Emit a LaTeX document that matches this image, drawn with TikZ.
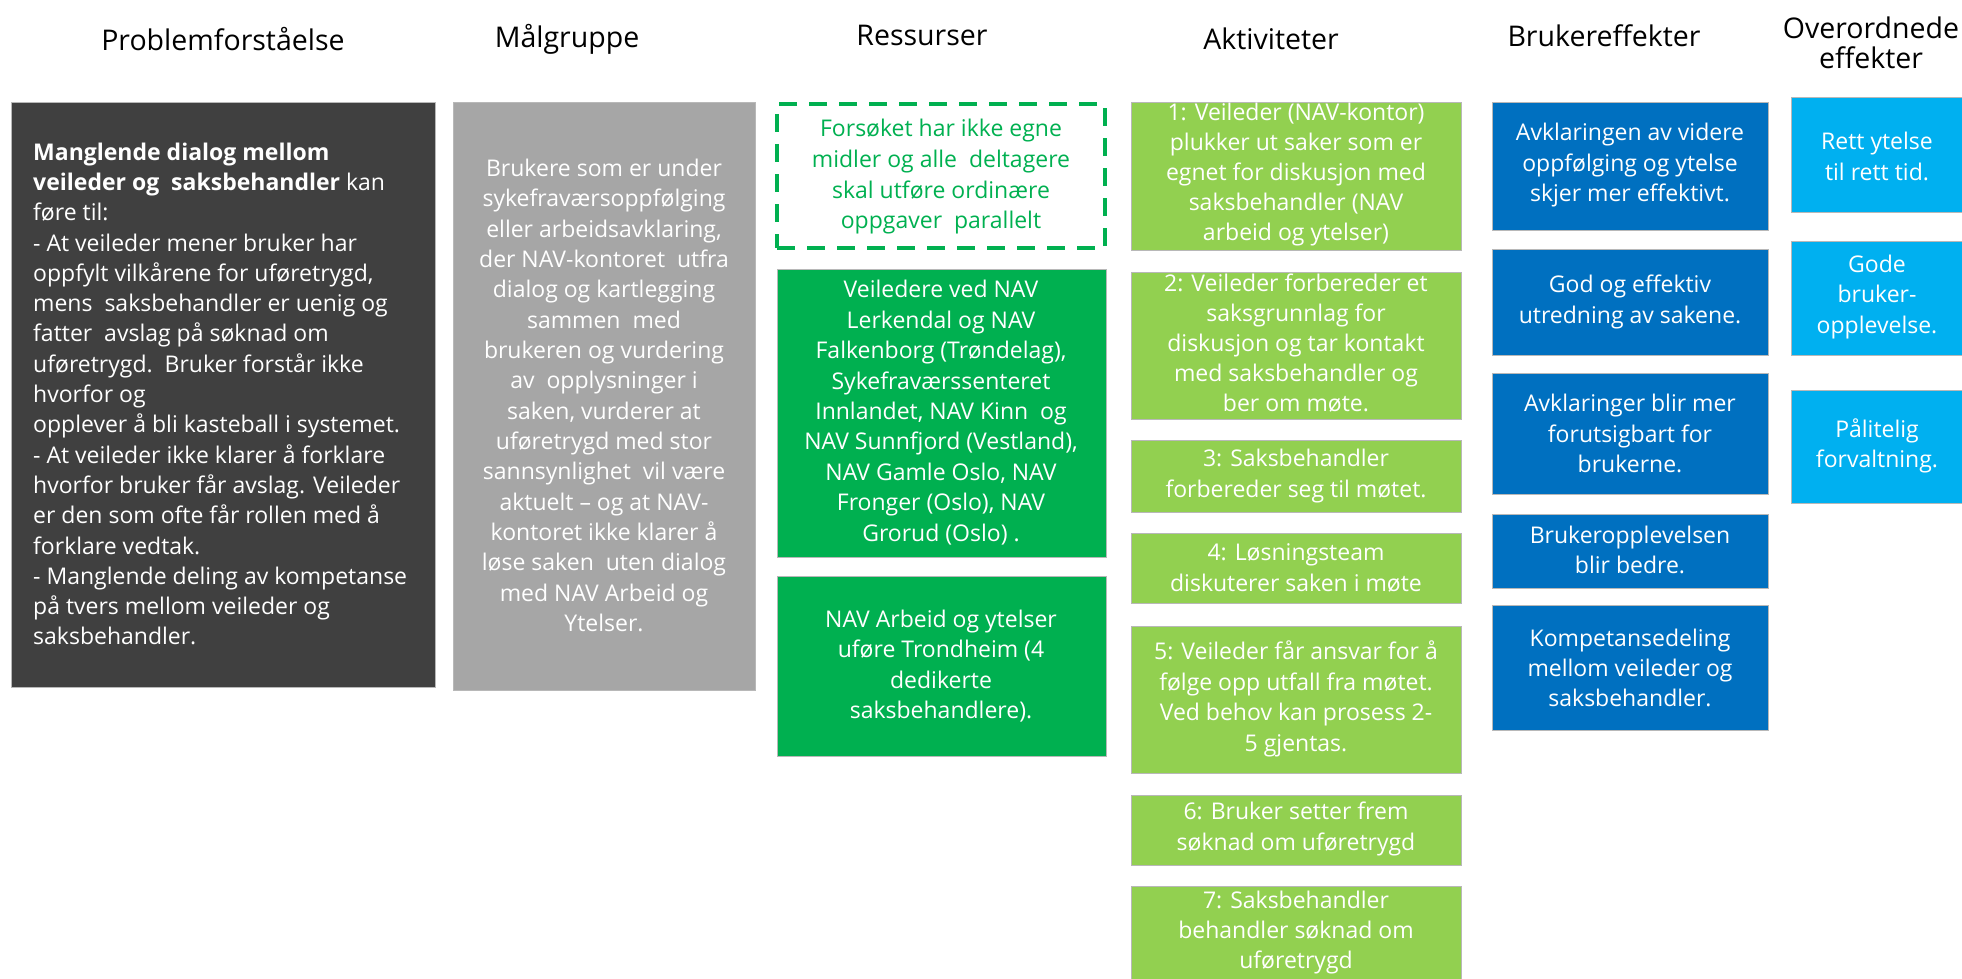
\documentclass[tikz,border=0pt]{standalone}
\usepackage{fontspec}
\setmainfont{Open Sans}
\definecolor{cdark}{HTML}{404040}
\definecolor{cgrey}{HTML}{A6A6A6}
\definecolor{cgreen}{HTML}{00B050}
\definecolor{clgreen}{HTML}{92D050}
\definecolor{cblue}{HTML}{0070C0}
\definecolor{clblue}{HTML}{00B0F0}
\begin{document}
\begin{tikzpicture}[x=1pt,y=-1pt,
  box/.style={rectangle, draw=black!28, line width=1pt, inner sep=0pt, outer sep=0pt, anchor=north west},
  dashbox/.style={rectangle, draw=cgreen, line width=3.5pt, dash pattern=on 18pt off 12pt, inner sep=0pt, outer sep=0pt, anchor=north west},
  txt/.style={inner sep=0pt, align=center, text=white, font=\fontsize{23}{30.4}\selectfont},
  head/.style={inner sep=0pt, align=center, text=black, font=\fontsize{28.5}{30}\selectfont},
]
\useasboundingbox (0,0) rectangle (1962,979);
\clip (0,0) rectangle (1962,979);

% headers
\node[head] (h1) at (223,39) {Problemforståelse};
\node[head] (h2) at (567,39) {Målgruppe};
\node[head] (h3) at (922,35) {Ressurser};
\node[head] (h4) at (1271,39) {Aktiviteter};
\node[head] (h5) at (1604,36) {Brukereffekter};
\node[head] (h6) at (1871,43) {Overordnede\\effekter};

% column 1
\node[box, fill=cdark, minimum width=424, minimum height=584] (prob) at (11,103) {};
\node[txt, anchor=west, align=left, font=\fontsize{23}{30.3}\selectfont] (probt) at (33,394) {%
\textbf{Manglende dialog mellom}\\
\textbf{veileder og\ \ saksbehandler} kan\\
føre til:\\
- At veileder mener bruker har\\
oppfylt vilkårene for uføretrygd,\\
mens\ \ saksbehandler er uenig og\\
fatter\ \ avslag på søknad om\\
uføretrygd.\ \ Bruker forstår ikke\\
hvorfor og\\
opplever å bli kasteball i systemet.\\
- At veileder ikke klarer å forklare\\
hvorfor bruker får avslag. Veileder\\
er den som ofte får rollen med å\\
forklare vedtak.\\
- Manglende deling av kompetanse\\
på tvers mellom veileder og\\
saksbehandler.};

% column 2
\node[box, fill=cgrey, minimum width=302, minimum height=587] (mal) at (453,103) {};
\node[txt, font=\fontsize{23}{30.35}\selectfont] (malt) at (604,395.4) {%
Brukere som er under\\
sykefraværsoppfølging\\
eller arbeidsavklaring,\\
der NAV-kontoret\ \ utfra\\
dialog og kartlegging\\
sammen\ \ med\\
brukeren og vurdering\\
av\ \ opplysninger i\\
saken, vurderer at\\
uføretrygd med stor\\
sannsynlighet\ \ vil være\\
aktuelt – og at NAV-\\
kontoret ikke klarer å\\
løse saken\ \ uten dialog\\
med NAV Arbeid og\\
Ytelser.};

% column 3
\node[dashbox, minimum width=328, minimum height=144] (res0) at (777,104) {};
\node[txt, text=cgreen, font=\fontsize{23}{30.8}\selectfont] (res0t) at (941,176.8) {%
Forsøket har ikke egne\\
midler og alle\ \ deltagere\\
skal utføre ordinære\\
oppgaver\ \ parallelt};
\node[box, fill=cgreen, minimum width=329, minimum height=288] (res1) at (777,269) {};
\node[txt] (res1t) at (941,412.5) {%
Veiledere ved NAV\\
Lerkendal og NAV\\
Falkenborg (Trøndelag),\\
Sykefraværssenteret\\
Innlandet, NAV Kinn\ \ og\\
NAV Sunnfjord (Vestland),\\
NAV Gamle Oslo, NAV\\
Fronger (Oslo), NAV\\
Grorud (Oslo) .};
\node[box, fill=cgreen, minimum width=329, minimum height=180] (res2) at (777,576) {};
\node[txt, font=\fontsize{23}{30.6}\selectfont] (res2t) at (941,666) {%
NAV Arbeid og ytelser\\
uføre Trondheim (4\\
dedikerte\\
saksbehandlere).};

% column 4
\node[box, fill=clgreen, minimum width=330, minimum height=147] (akt1) at (1131,103) {};
\node[txt, font=\fontsize{23}{30.1}\selectfont] (akt1t) at (1296,174.8) {%
1: Veileder (NAV-kontor)\\
plukker ut saker som er\\
egnet for diskusjon med\\
saksbehandler (NAV\\
arbeid og ytelser)};
\node[box, fill=clgreen, minimum width=330, minimum height=147] (akt2) at (1131,272) {};
\node[txt, font=\fontsize{23}{30.1}\selectfont] (akt2t) at (1296,343.3) {%
2: Veileder forbereder et\\
saksgrunnlag for\\
diskusjon og tar kontakt\\
med saksbehandler og\\
ber om møte.};
\node[box, fill=clgreen, minimum width=330, minimum height=72] (akt3) at (1131,440) {};
\node[txt, font=\fontsize{23}{31}\selectfont] (akt3t) at (1296,476.5) {%
3: Saksbehandler\\
forbereder seg til møtet.};
\node[box, fill=clgreen, minimum width=330, minimum height=70] (akt4) at (1131,533) {};
\node[txt, font=\fontsize{23}{31}\selectfont] (akt4t) at (1296,567.5) {%
4: Løsningsteam\\
diskuterer saken i møte};
\node[box, fill=clgreen, minimum width=330, minimum height=147] (akt5) at (1131,626) {};
\node[txt, font=\fontsize{23}{30.7}\selectfont] (akt5t) at (1296,699) {%
5: Veileder får ansvar for å\\
følge opp utfall fra møtet.\\
Ved behov kan prosess 2-\\
5 gjentas.};
\node[box, fill=clgreen, minimum width=330, minimum height=70] (akt6) at (1131,795) {};
\node[txt, font=\fontsize{23}{31}\selectfont] (akt6t) at (1296,828.5) {%
6: Bruker setter frem\\
søknad om uføretrygd};
\node[box, fill=clgreen, minimum width=330, minimum height=110] (akt7) at (1131,886) {};
\node[txt, font=\fontsize{23}{30}\selectfont] (akt7t) at (1296,933) {%
7: Saksbehandler\\
behandler søknad om\\
uføretrygd};

% column 5
\node[box, fill=cblue, minimum width=276, minimum height=127] (bru1) at (1492,103) {};
\node[txt, font=\fontsize{23}{30.5}\selectfont] (bru1t) at (1630,165.5) {%
Avklaringen av videre\\
oppfølging og ytelse\\
skjer mer effektivt.};
\node[box, fill=cblue, minimum width=276, minimum height=106] (bru2) at (1492,249) {};
\node[txt, font=\fontsize{23}{31.5}\selectfont] (bru2t) at (1630,302) {%
God og effektiv\\
utredning av sakene.};
\node[box, fill=cblue, minimum width=276, minimum height=121] (bru3) at (1492,373) {};
\node[txt, font=\fontsize{23}{30.5}\selectfont] (bru3t) at (1630,433.5) {%
Avklaringer blir mer\\
forutsigbart for\\
brukerne.};
\node[box, fill=cblue, minimum width=276, minimum height=74] (bru4) at (1492,514) {};
\node[txt, font=\fontsize{23}{30.6}\selectfont] (bru4t) at (1630,550) {%
Brukeropplevelsen\\
blir bedre.};
\node[box, fill=cblue, minimum width=276, minimum height=125] (bru5) at (1492,605) {};
\node[txt, font=\fontsize{23}{30}\selectfont] (bru5t) at (1630,668) {%
Kompetansedeling\\
mellom veileder og\\
saksbehandler.};

% column 6
\node[box, fill=clblue, minimum width=172, minimum height=114] (ove1) at (1791,98) {};
\node[txt, font=\fontsize{23}{31}\selectfont] (ove1t) at (1877,156) {%
Rett ytelse\\
til rett tid.};
\node[box, fill=clblue, minimum width=172, minimum height=114] (ove2) at (1791,241) {};
\node[txt, font=\fontsize{23}{30.2}\selectfont] (ove2t) at (1877,297) {%
Gode\\
bruker-\\
opplevelse.};
\node[box, fill=clblue, minimum width=172, minimum height=113] (ove3) at (1791,390) {};
\node[txt, font=\fontsize{23}{30.5}\selectfont] (ove3t) at (1877,446) {%
Pålitelig\\
forvaltning.};
\end{tikzpicture}
\end{document}
